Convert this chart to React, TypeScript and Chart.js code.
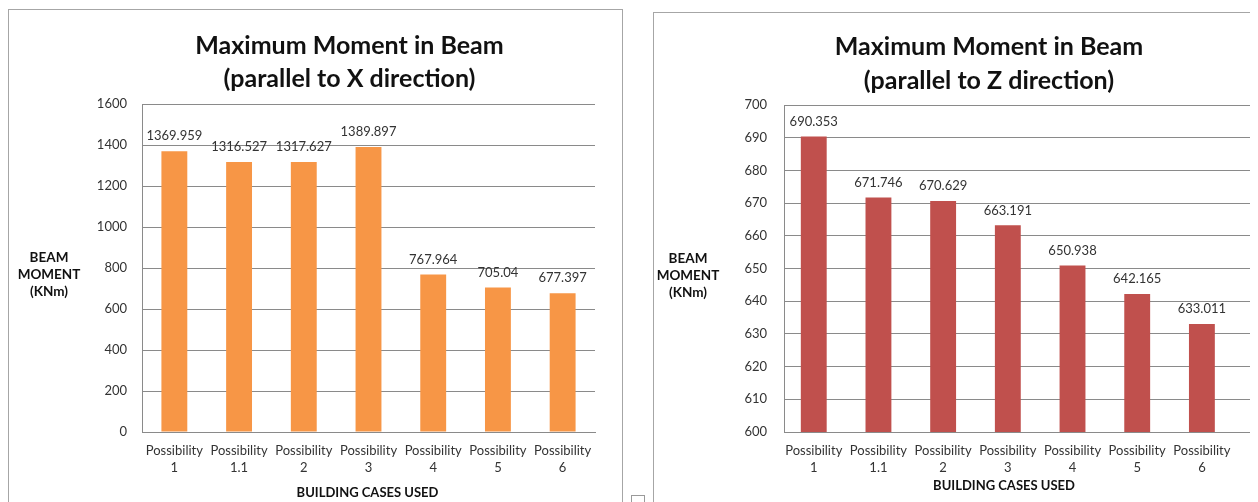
import React, { useEffect, useRef } from "react";
import { Chart, registerables } from "chart.js";

Chart.register(...registerables);

// Building cases on the x axis (two-line labels)
const categories: string[][] = [
  ["Possibility", "1"],
  ["Possibility", "1.1"],
  ["Possibility", "2"],
  ["Possibility", "3"],
  ["Possibility", "4"],
  ["Possibility", "5"],
  ["Possibility", "6"],
];

// Maximum beam moment (KNm), beams parallel to X
const momentX: number[] = [1369.959, 1316.527, 1317.627, 1389.897, 767.964, 705.04, 677.397];

// Maximum beam moment (KNm), beams parallel to Z
const momentZ: number[] = [690.353, 671.746, 670.629, 663.191, 650.938, 642.165, 633.011];

const titleX: string[] = ["Maximum Moment in Beam", "(parallel to X direction)"];
const titleZ: string[] = ["Maximum Moment in Beam", "(parallel to Z direction)"];
const yTitleLines: string[] = ["BEAM", "MOMENT", "(KNm)"];
const xTitleText = "BUILDING CASES USED";

const FONT = "Lato, 'Noto Sans', sans-serif";
const GRID = "#8a8a8a";
const TEXT = "#333333";
const DARK = "#111111";

type Spec = {
  values: number[];
  title: string[];
  color: string;
  min: number;
  max: number;
  step: number;
  xMin: number;
  xMax: number;
  width: number;
  height: number;
  padTop: number;
  padRight: number;
  yWidth: number;
  tickPad: number;
  titleX: number;
  titleY: number;
  titleGap: number;
  yTitleX: number;
  yTitleShift: number;
  xTitleX: number;
  xTitleY: number;
};

// Chart title, value labels above bars and the horizontal axis captions
const annotate = {
  id: "annotate",
  afterDatasetsDraw(chart: any, _args: any, opts: any) {
    const ctx = chart.ctx as CanvasRenderingContext2D;
    const { top, bottom } = chart.chartArea;
    ctx.save();
    ctx.textAlign = "center";
    ctx.textBaseline = "middle";

    ctx.fillStyle = DARK;
    ctx.font = `bold 25px ${FONT}`;
    (opts.title as string[]).forEach((line, i) => {
      ctx.fillText(line, opts.titleX, opts.titleY + i * opts.titleGap);
    });

    ctx.fillStyle = TEXT;
    ctx.font = `13px ${FONT}`;
    const points = chart.data.datasets[0].data as { x: number; y: number }[];
    chart.getDatasetMeta(0).data.forEach((bar: any, i: number) => {
      ctx.fillText(String(points[i].y), bar.x, bar.y - 15);
    });

    ctx.fillStyle = DARK;
    ctx.font = `bold 13.5px ${FONT}`;
    const cy = (top + bottom) / 2 + opts.yTitleShift;
    yTitleLines.forEach((line, i) => {
      ctx.fillText(line, opts.yTitleX, cy + (i - 1) * 17);
    });
    ctx.font = `bold 13px ${FONT}`;
    ctx.fillText(xTitleText, opts.xTitleX, opts.xTitleY);
    ctx.restore();
  },
};

function makeConfig(s: Spec): any {
  return {
    type: "bar",
    data: {
      datasets: [
        {
          data: s.values.map((y, i) => ({ x: i, y })),
          backgroundColor: s.color,
          borderWidth: 0,
          barPercentage: 0.4,
          categoryPercentage: 1,
        },
      ],
    },
    plugins: [annotate],
    options: {
      responsive: false,
      animation: false,
      devicePixelRatio: 1,
      layout: { padding: { left: 0, right: s.padRight, top: s.padTop, bottom: 0 } },
      plugins: {
        legend: { display: false },
        tooltip: { enabled: false },
        title: { display: false },
        annotate: {
          title: s.title,
          titleX: s.titleX,
          titleY: s.titleY,
          titleGap: s.titleGap,
          yTitleX: s.yTitleX,
          yTitleShift: s.yTitleShift,
          xTitleX: s.xTitleX,
          xTitleY: s.xTitleY,
        },
      },
      scales: {
        x: {
          type: "linear",
          bounds: "data",
          offset: false,
          min: s.xMin,
          max: s.xMax,
          grid: { display: false, drawTicks: false, offset: false },
          border: { display: true, color: GRID, width: 1 },
          afterBuildTicks: (scale: any) => {
            scale.ticks = categories.map((_, i) => ({ value: i }));
            scale.min = s.xMin;
            scale.max = s.xMax;
          },
          ticks: {
            color: TEXT,
            font: { family: FONT, size: 13, lineHeight: 1.3 },
            padding: 10,
            maxRotation: 0,
            autoSkip: false,
            callback: (value: number) => categories[Math.round(value)] ?? "",
          },
          afterFit: (scale: any) => {
            scale.height = 70;
          },
        },
        y: {
          min: s.min,
          max: s.max,
          ticks: {
            stepSize: s.step,
            color: TEXT,
            font: { family: FONT, size: 13 },
            padding: s.tickPad,
            callback: (value: number) => String(value),
          },
          grid: { color: GRID, drawTicks: false, lineWidth: 1 },
          border: { display: true, color: GRID, width: 1 },
          afterFit: (scale: any) => {
            scale.width = s.yWidth;
          },
        },
      },
    },
  };
}

function BarPanel({ spec, style }: { spec: Spec; style: React.CSSProperties }) {
  const ref = useRef<HTMLCanvasElement | null>(null);
  useEffect(() => {
    let chart: Chart | null = null;
    let cancelled = false;
    const build = () => {
      if (cancelled || !ref.current) return;
      chart = new Chart(ref.current, makeConfig(spec));
    };
    Promise.all([
      document.fonts.load(`13px Lato`),
      document.fonts.load(`bold 25px Lato`),
    ])
      .catch(() => undefined)
      .then(build);
    return () => {
      cancelled = true;
      if (chart) chart.destroy();
    };
  }, [spec]);
  return (
    <canvas
      ref={ref}
      width={spec.width}
      height={spec.height}
      style={{ position: "absolute", width: spec.width, height: spec.height, ...style }}
    />
  );
}

const leftSpec: Spec = {
  values: momentX,
  title: titleX,
  color: "#F79646",
  min: 0,
  max: 1600,
  step: 200,
  xMin: -0.5,
  xMax: 6.5,
  width: 612,
  height: 492,
  padTop: 94,
  padRight: 26,
  yWidth: 133,
  tickPad: 15,
  titleX: 340.5,
  titleY: 36,
  titleGap: 33,
  yTitleX: 40,
  yTitleShift: 7,
  xTitleX: 358.5,
  xTitleY: 483,
};

const rightSpec: Spec = {
  values: momentZ,
  title: titleZ,
  color: "#C0504D",
  min: 600,
  max: 700,
  step: 10,
  xMin: -0.46,
  xMax: 6.79,
  width: 604,
  height: 489,
  padTop: 92,
  padRight: 5,
  yWidth: 130,
  tickPad: 17,
  titleX: 335,
  titleY: 34,
  titleGap: 34,
  yTitleX: 34,
  yTitleShift: 7.5,
  xTitleX: 350,
  xTitleY: 473,
};

export default function App() {
  return (
    <div
      style={{
        position: "relative",
        width: 1250,
        height: 494,
        overflow: "hidden",
        background: "#ffffff",
      }}
    >
      <div
        style={{
          position: "absolute",
          left: 0,
          top: 1,
          width: 615,
          height: 540,
          boxSizing: "border-box",
          border: "1px solid #a6a6a6",
        }}
      />
      <div
        style={{
          position: "absolute",
          left: 645,
          top: 4,
          width: 700,
          height: 540,
          boxSizing: "border-box",
          border: "1px solid #a6a6a6",
        }}
      />
      <div
        style={{
          position: "absolute",
          left: 623,
          top: 487,
          width: 14,
          height: 20,
          boxSizing: "border-box",
          border: "1px solid #9a9a9a",
        }}
      />
      <BarPanel spec={leftSpec} style={{ left: 1, top: 2 }} />
      <BarPanel spec={rightSpec} style={{ left: 646, top: 5 }} />
    </div>
  );
}
